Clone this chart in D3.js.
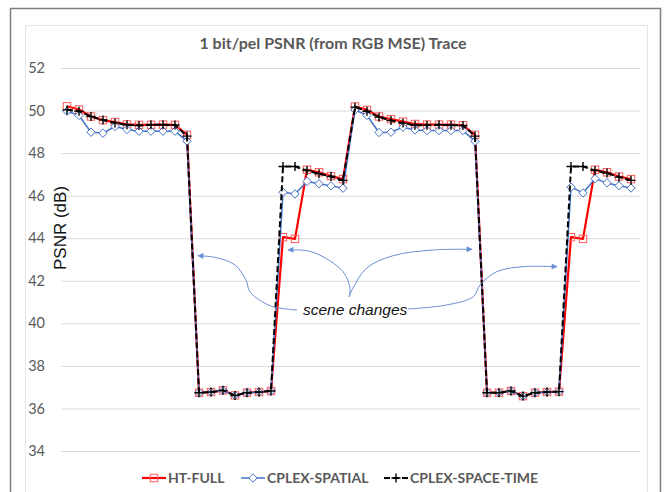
<!DOCTYPE html>
<html>
<head>
<meta charset="utf-8">
<script src="https://cdn.jsdelivr.net/npm/d3@7"></script>
<style>
  html, body { margin: 0; padding: 0; background: #ffffff; }
  svg { display: block; }
</style>
</head>
<body>
<svg id="chart" width="664" height="492"></svg>
<script>
// Frame indices along the trace (category axis, no labels drawn)
const frames = [
  1, 2, 3, 4, 5, 6, 7, 8, 9, 10, 11, 12, 13, 14, 15, 16,
  17, 18, 19, 20, 21, 22, 23, 24, 25, 26, 27, 28, 29, 30, 31, 32,
  33, 34, 35, 36, 37, 38, 39, 40, 41, 42, 43, 44, 45, 46, 47, 48
];

// PSNR (dB) per frame for each coder
const htFull = [
  50.20, 50.05, 49.72, 49.55, 49.46, 49.35, 49.33, 49.33, 49.34, 49.33, 48.86,
  36.74, 36.77, 36.85, 36.61, 36.74, 36.77, 36.82,
  44.05, 43.97, 47.22, 47.10, 46.92, 46.78,
  50.19, 50.03, 49.72, 49.60, 49.48, 49.37, 49.34, 49.34, 49.34, 49.31, 48.86,
  36.74, 36.74, 36.82, 36.58, 36.74, 36.77, 36.79,
  44.05, 43.97, 47.22, 47.10, 46.90, 46.78
];
const cplexSpatial = [
  49.97, 49.77, 48.98, 48.94, 49.25, 49.11, 49.03, 49.03, 49.03, 49.03, 48.56,
  36.74, 36.77, 36.85, 36.61, 36.74, 36.77, 36.82,
  46.16, 46.08, 46.67, 46.56, 46.46, 46.35,
  50.03, 49.77, 48.97, 48.98, 49.22, 49.09, 49.06, 49.06, 49.06, 49.06, 48.55,
  36.74, 36.74, 36.82, 36.58, 36.74, 36.77, 36.79,
  46.40, 46.13, 46.80, 46.60, 46.47, 46.36
];
const cplexSpaceTime = [
  50.03, 49.97, 49.72, 49.56, 49.42, 49.33, 49.30, 49.33, 49.33, 49.32, 48.80,
  36.74, 36.77, 36.85, 36.61, 36.74, 36.77, 36.82,
  47.37, 47.37, 47.18, 47.03, 46.90, 46.72,
  50.16, 49.97, 49.69, 49.53, 49.41, 49.31, 49.31, 49.33, 49.31, 49.30, 48.80,
  36.74, 36.74, 36.82, 36.58, 36.74, 36.77, 36.79,
  47.37, 47.37, 47.18, 47.06, 46.87, 46.72
];

const yTicks = [34, 36, 38, 40, 42, 44, 46, 48, 50, 52];
const seriesNames = ["HT-FULL", "CPLEX-SPATIAL", "CPLEX-SPACE-TIME"];

const titleText = "1 bit/pel PSNR (from RGB MSE) Trace";
const yTitle = "PSNR (dB)";
const noteText = "scene changes";

// ---- layout ----
const svg = d3.select("#chart");
const plot = { left: 61, right: 637, top: 68, bottom: 451 };

const x = d3.scalePoint()
  .domain(frames)
  .range([plot.left, plot.right])
  .padding(0.5);

const y = d3.scaleLinear()
  .domain([34, 52])
  .range([plot.bottom, plot.top]);

const grey = "#595959";
const tickFont = "Lato, 'Open Sans', sans-serif";

// outer frame and chart-area border
svg.append("rect")
  .attr("x", 10.5).attr("y", 8.5)
  .attr("width", 650).attr("height", 500)
  .attr("fill", "#ffffff")
  .attr("stroke", "#7f7f7f").attr("stroke-width", 1.5);
svg.append("rect")
  .attr("x", 25.5).attr("y", 25.5)
  .attr("width", 622).attr("height", 480)
  .attr("fill", "#ffffff")
  .attr("stroke", "#e4e4e4").attr("stroke-width", 1);

// title
svg.append("text")
  .attr("x", 333).attr("y", 49)
  .attr("text-anchor", "middle")
  .attr("font-family", tickFont)
  .attr("font-weight", 700)
  .attr("font-size", 16)
  .attr("fill", grey)
  .text(titleText);

// y axis (gridlines + labels)
const yAxis = d3.axisLeft(y)
  .tickValues(yTicks)
  .tickSize(-(plot.right + 3 - plot.left))
  .tickPadding(16)
  .tickFormat(d3.format("d"));

const gy = svg.append("g")
  .attr("transform", `translate(${plot.left},0)`)
  .call(yAxis);
gy.select(".domain").remove();
gy.selectAll(".tick line")
  .attr("stroke", "#d9d9d9")
  .attr("stroke-width", 1);
gy.selectAll(".tick text")
  .attr("font-family", tickFont)
  .attr("font-size", 14.5)
  .attr("fill", grey);

// y axis title
svg.append("text")
  .attr("transform", `translate(66,228) rotate(-90)`)
  .attr("text-anchor", "middle")
  .attr("font-family", "'Liberation Sans', Arial, sans-serif")
  .attr("font-size", 17)
  .attr("fill", "#111111")
  .text(yTitle);

// ---- series ----
const series = [
  { name: seriesNames[0], values: htFull, color: "#ff0000", width: 2.2, dash: null, marker: "square" },
  { name: seriesNames[1], values: cplexSpatial, color: "#4472c4", width: 1.5, dash: null, marker: "diamond" },
  { name: seriesNames[2], values: cplexSpaceTime, color: "#000000", width: 2, dash: "6,3", marker: "plus" }
];

const line = d3.line()
  .x((d, i) => x(frames[i]))
  .y(d => y(d));

function drawMarker(g, type, color, cx, cy) {
  if (type === "square") {
    g.append("rect")
      .attr("x", cx - 3.7).attr("y", cy - 3.7)
      .attr("width", 7.4).attr("height", 7.4)
      .attr("fill", "none")
      .attr("stroke", "#ff5a5a").attr("stroke-width", 1);
  } else if (type === "diamond") {
    g.append("path")
      .attr("d", `M${cx},${cy - 4.2}L${cx + 4.2},${cy}L${cx},${cy + 4.2}L${cx - 4.2},${cy}Z`)
      .attr("fill", "#ffffff")
      .attr("stroke", color).attr("stroke-width", 1);
  } else {
    g.append("path")
      .attr("d", `M${cx - 4.5},${cy}H${cx + 4.5}M${cx},${cy - 4.5}V${cy + 4.5}`)
      .attr("stroke", color).attr("stroke-width", 1.4)
      .attr("fill", "none");
  }
}

series.forEach(s => {
  const g = svg.append("g");
  g.append("path")
    .datum(s.values)
    .attr("d", line)
    .attr("fill", "none")
    .attr("stroke", s.color)
    .attr("stroke-width", s.width)
    .attr("stroke-dasharray", s.dash)
    .attr("stroke-linejoin", "round");
  s.values.forEach((v, i) => drawMarker(g, s.marker, s.color, x(frames[i]), y(v)));
});

// ---- "scene changes" annotation ----
const arrowColor = "#6a8fd3";
svg.append("defs").append("marker")
  .attr("id", "head")
  .attr("viewBox", "0 0 10 10")
  .attr("refX", 9).attr("refY", 5)
  .attr("markerWidth", 7).attr("markerHeight", 6)
  .attr("markerUnits", "userSpaceOnUse")
  .attr("orient", "auto")
  .append("path")
  .attr("d", "M0,0L10,5L0,10Z")
  .attr("fill", arrowColor);

const arrowPaths = [
  [[297, 310], [270, 305.7], [250, 291.7], [246, 280], [235, 265], [216.7, 257.7], [198, 255.7]],
  [[349, 297], [350, 288], [343, 271.7], [323, 256.7], [306.7, 250.7], [288, 250]],
  [[349, 297], [353, 288], [366.7, 268], [393, 255.7], [433, 250], [472, 249.3]],
  [[408, 309], [446.7, 305], [473.3, 296.7], [480, 285], [496.7, 271.7], [523, 266.7], [557, 266.7]]
];
const curve = d3.line().curve(d3.curveCatmullRom.alpha(0.5));
arrowPaths.forEach(p => {
  svg.append("path")
    .attr("d", curve(p))
    .attr("fill", "none")
    .attr("stroke", arrowColor)
    .attr("stroke-width", 1)
    .attr("marker-end", "url(#head)");
});

svg.append("text")
  .attr("x", 303).attr("y", 315)
  .attr("font-family", "'Liberation Sans', Arial, sans-serif")
  .attr("font-style", "italic")
  .attr("font-size", 15.5)
  .attr("fill", "#111111")
  .text(noteText);

// ---- legend ----
const legendX = [142, 241, 384];
const legendY = 478;
series.forEach((s, i) => {
  const g = svg.append("g");
  const x0 = legendX[i];
  g.append("line")
    .attr("x1", x0).attr("x2", x0 + 24)
    .attr("y1", legendY).attr("y2", legendY)
    .attr("stroke", s.color)
    .attr("stroke-width", s.width)
    .attr("stroke-dasharray", s.dash);
  drawMarker(g, s.marker, s.color, x0 + 12, legendY);
  g.append("text")
    .attr("x", x0 + 26).attr("y", legendY + 5)
    .attr("font-family", tickFont)
    .attr("font-weight", 700)
    .attr("font-size", 14)
    .attr("fill", grey)
    .text(s.name);
});
</script>
</body>
</html>
